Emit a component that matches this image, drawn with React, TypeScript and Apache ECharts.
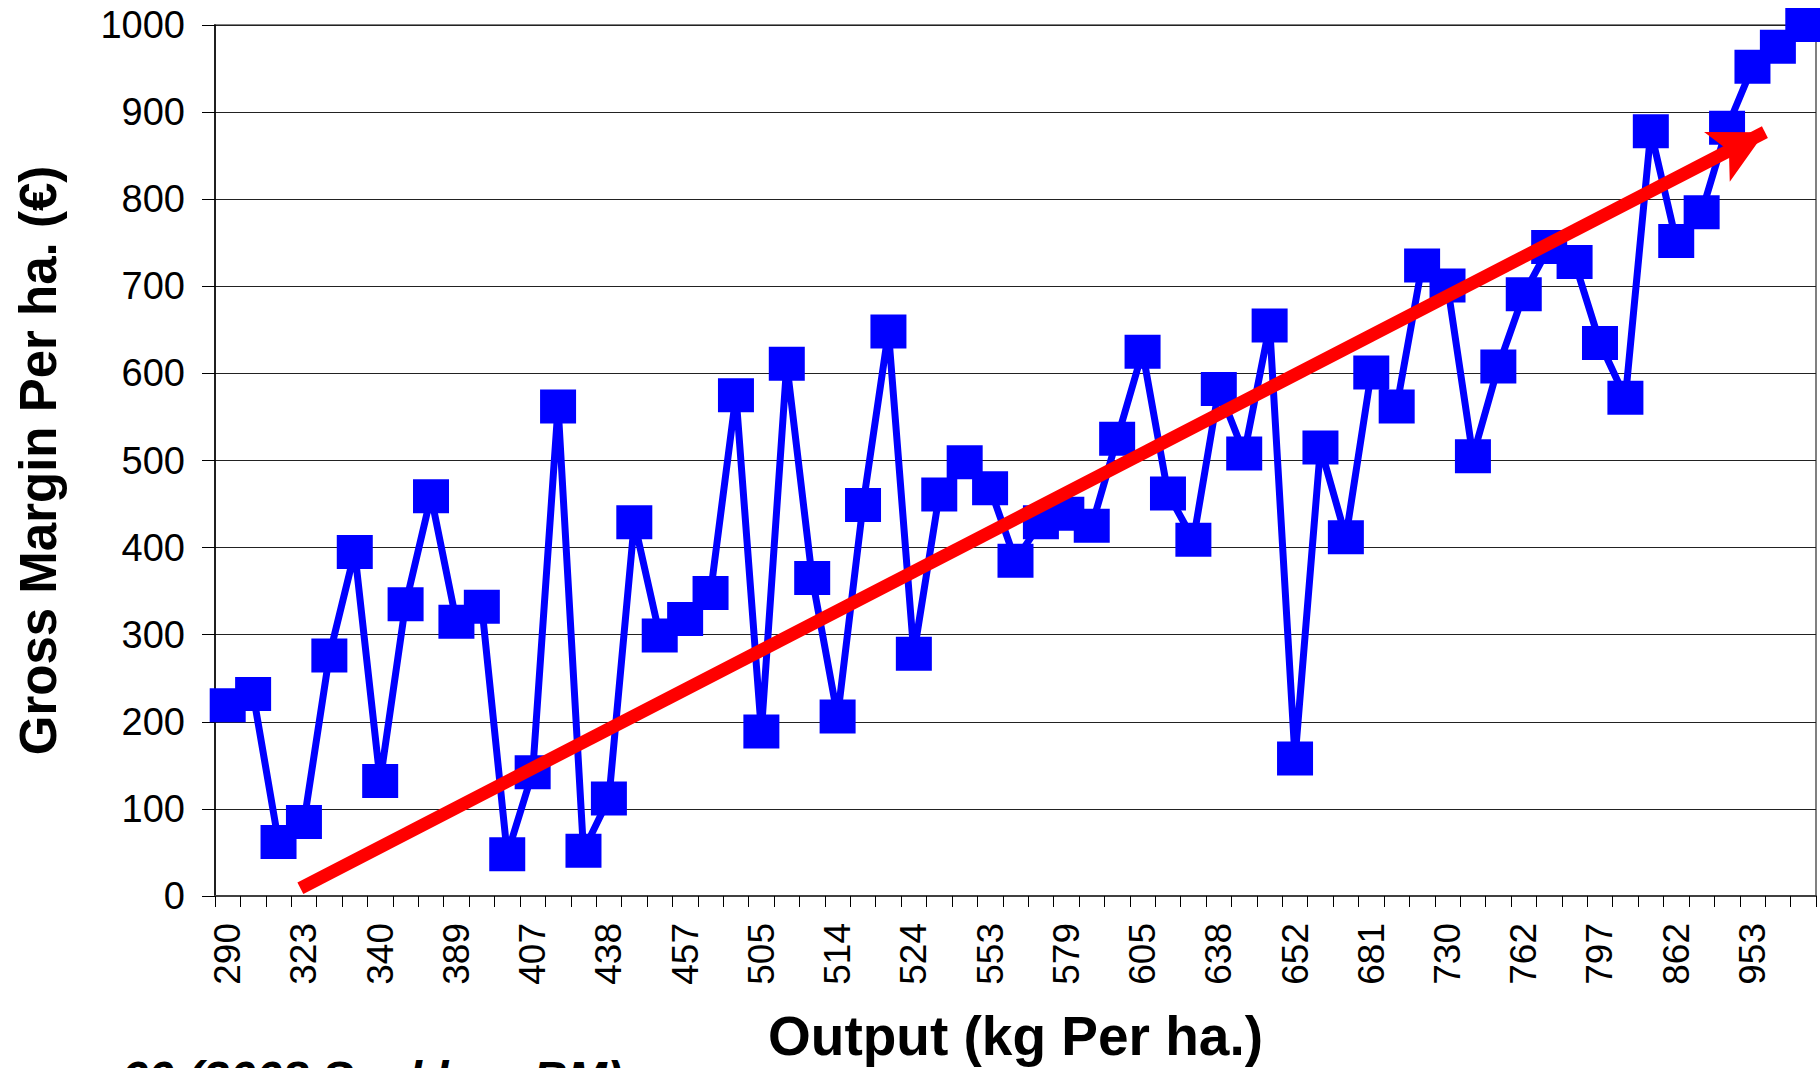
import React, { useEffect, useRef } from "react";
import * as echarts from "echarts";

// Output (kg per ha.) labels that are printed (every third category)
const shownOutputLabels = [
  "290", "323", "340", "389", "407", "438", "457", "505", "514", "524", "553",
  "579", "605", "638", "652", "681", "730", "762", "797", "862", "953",
];
const labelEvery = 3;

// Gross margin per ha. (€) for each farm, ordered by output
const grossMargin = [
  219, 232, 62, 85, 276, 395, 132, 335, 459, 315, 332, 48, 142, 562, 52, 112,
  429, 299, 318, 348, 575, 189, 611, 365, 206, 449, 648, 278, 461, 498, 468,
  385, 429, 439, 425, 525, 625, 462, 409, 582, 508, 655, 158, 515, 412, 601,
  562, 724, 701, 505, 608, 691, 745, 728, 635, 572, 878, 752, 785, 882, 952,
  975, 1000,
];

// Y axis range
const yMin = 0;
const yMax = 1000;
const yStep = 100;

// Trend arrow, in data units (x = category position, y = €)
const trendStart = [3.36, 9];
const trendEnd = [60.99, 877];

const xTitle = "Output (kg Per ha.)";
const yTitle = "Gross Margin Per ha. (€)";
const footnote = "60 (2008 Sucklers BM)";

const FONT = '"Liberation Sans", Arial, Helvetica, sans-serif';

export default function App() {
  const ref = useRef<HTMLDivElement>(null);

  useEffect(() => {
    if (!ref.current) return;
    const chart = echarts.init(ref.current, undefined, { renderer: "svg" });
    const categories = grossMargin.map((_, i) =>
      i % labelEvery === 0 ? shownOutputLabels[i / labelEvery] ?? "" : ""
    );

    chart.setOption({
      animation: false,
      backgroundColor: "#ffffff",
      grid: {
        left: 215,
        right: 4,
        top: 25,
        bottom: 172,
        show: true,
        borderColor: "#808080",
        borderWidth: 2,
        backgroundColor: "transparent",
      },
      xAxis: [
        {
          type: "category",
          data: categories,
          boundaryGap: true,
          axisLine: { show: true, lineStyle: { color: "#404040", width: 2 } },
          axisTick: {
            show: true,
            interval: 0,
            alignWithLabel: false,
            length: 11,
            lineStyle: { color: "#000", width: 1 },
          },
          axisLabel: {
            interval: 0,
            rotate: 90,
            margin: 27,
            fontSize: 37,
            fontFamily: FONT,
            color: "#000",
          },
          splitLine: { show: false },
          name: xTitle,
          nameLocation: "middle",
          nameGap: 112,
          nameTextStyle: {
            fontSize: 55,
            fontWeight: "bold",
            fontFamily: FONT,
            color: "#000",
          },
        },
        {
          type: "value",
          min: 0,
          max: grossMargin.length,
          show: false,
        },
      ],
      yAxis: {
        type: "value",
        min: yMin,
        max: yMax,
        interval: yStep,
        axisLine: { show: true, lineStyle: { color: "#000", width: 1.5 } },
        axisTick: { show: true, length: 13, lineStyle: { color: "#000", width: 1 } },
        axisLabel: {
          margin: 30,
          fontSize: 38,
          fontFamily: FONT,
          color: "#000",
          formatter: (v: number) => String(v),
        },
        splitLine: { show: true, lineStyle: { color: "#222", width: 1 } },
        name: yTitle,
        nameLocation: "middle",
        nameGap: 151,
        nameTextStyle: {
          fontSize: 51,
          fontWeight: "bold",
          fontFamily: FONT,
          color: "#000",
        },
      },
      series: [
        {
          type: "line",
          data: grossMargin,
          xAxisIndex: 0,
          yAxisIndex: 0,
          symbol: "rect",
          symbolSize: [36, 34],
          showAllSymbol: true,
          clip: false,
          lineStyle: { color: "#0000ff", width: 7 },
          itemStyle: { color: "#0000ff" },
          z: 2,
          silent: true,
        },
        {
          type: "line",
          xAxisIndex: 1,
          yAxisIndex: 0,
          data: [trendStart, trendEnd],
          showSymbol: false,
          symbol: "none",
          lineStyle: { opacity: 0, width: 0 },
          clip: false,
          silent: true,
          z: 5,
          markLine: {
            silent: true,
            animation: false,
            symbol: ["none", "arrow"],
            symbolSize: [42, 54],
            label: { show: false },
            lineStyle: { color: "#ff0000", width: 13, type: "solid", opacity: 1 },
            itemStyle: { color: "#ff0000" },
            data: [[{ coord: trendStart }, { coord: trendEnd }]],
          },
        },
      ],
      graphic: [
        {
          type: "text",
          left: 121,
          top: 1054,
          silent: true,
          style: {
            text: footnote,
            fontSize: 47.5,
            fontWeight: "bold",
            fontStyle: "italic",
            fontFamily: FONT,
            fill: "#000",
          },
        },
      ],
    });

    return () => {
      chart.dispose();
    };
  }, []);

  return (
    <div
      ref={ref}
      style={{
        position: "absolute",
        left: 0,
        top: 0,
        width: 1820,
        height: 1068,
        background: "#fff",
      }}
    />
  );
}
